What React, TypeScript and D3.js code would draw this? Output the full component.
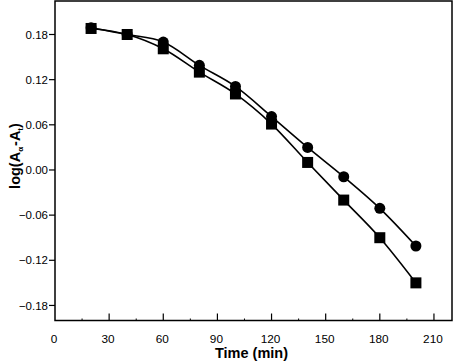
import * as d3 from 'd3';
import React from 'react';

const times = [20, 40, 60, 80, 100, 120, 140, 160, 180, 200];
const circleValues = [0.189, 0.180, 0.170, 0.139, 0.111, 0.071, 0.030, -0.009, -0.051, -0.101];
const squareValues = [0.188, 0.180, 0.161, 0.130, 0.101, 0.061, 0.010, -0.040, -0.090, -0.150];
const xTicks = [0, 30, 60, 90, 120, 150, 180, 210];
const xMinorTicks = [15, 45, 75, 105, 135, 165, 195];
const yTicks = [0.18, 0.12, 0.06, 0.0, -0.06, -0.12, -0.18];

const W = 453;
const H = 364;
const left = 55;
const right = 452;
const top = 1;
const bottom = 320.5;

export default function App() {
  const x = d3.scaleLinear().domain([0, 220]).range([left, right]);
  const y = d3.scaleLinear().domain([-0.2, 0.2245]).range([bottom, top]);

  const line = d3.line<number>()
    .x((_, i) => x(times[i]))
    .y(d => y(d))
    .curve(d3.curveMonotoneX);

  const font = "'Liberation Sans', Arial, sans-serif";

  return (
    <svg width={W} height={H} style={{position: 'absolute', left: 0, top: 0, background: '#fff'}}
         fontFamily={font}>
      <rect x={left} y={top} width={right - left} height={bottom - top}
            fill="none" stroke="#000" strokeWidth={1.5}/>
      {/* x ticks, pointing inward */}
      {xTicks.map(t => (
        <g key={t}>
          {t > 0 && <line x1={x(t)} x2={x(t)} y1={bottom} y2={bottom - 7} stroke="#000" strokeWidth={1.2}/>}
          <text x={x(t) - 1} y={343} textAnchor="middle" fontSize={11.8}>{t}</text>
        </g>
      ))}
      {xMinorTicks.map(t => (
        <line key={t} x1={x(t)} x2={x(t)} y1={bottom} y2={bottom - 2} stroke="#000" strokeWidth={1}/>
      ))}
      {/* y ticks, pointing outward */}
      {yTicks.map(t => (
        <g key={t}>
          <line x1={left - 6} x2={left} y1={y(t)} y2={y(t)} stroke="#000" strokeWidth={1.2}/>
          <text x={left - 7} y={y(t) + 4.2} textAnchor="end" fontSize={11.5}>{d3.format('.2f')(t)}</text>
        </g>
      ))}
      <path d={line(circleValues) ?? ''} fill="none" stroke="#000" strokeWidth={1.6}/>
      <path d={line(squareValues) ?? ''} fill="none" stroke="#000" strokeWidth={1.6}/>
      {squareValues.map((v, i) => (
        <rect key={'s' + i} x={x(times[i]) - 5.5} y={y(v) - 5.5} width={11} height={11} fill="#000"/>
      ))}
      {circleValues.map((v, i) => (
        <circle key={'c' + i} cx={x(times[i])} cy={y(v)} r={5.5} fill="#000"/>
      ))}
      <text x={251.5} y={358} textAnchor="middle" fontSize={14.5} fontWeight="bold">Time (min)</text>
      <text transform={`translate(20, ${156}) rotate(-90)`} textAnchor="middle" fontSize={14.5} fontWeight="bold">
        log(A<tspan fontSize={8} dy={3}>α</tspan><tspan dy={-3} dx={1}>-A</tspan><tspan fontSize={8} dy={3}>t</tspan><tspan dy={-3}>)</tspan>
      </text>
    </svg>
  );
}
